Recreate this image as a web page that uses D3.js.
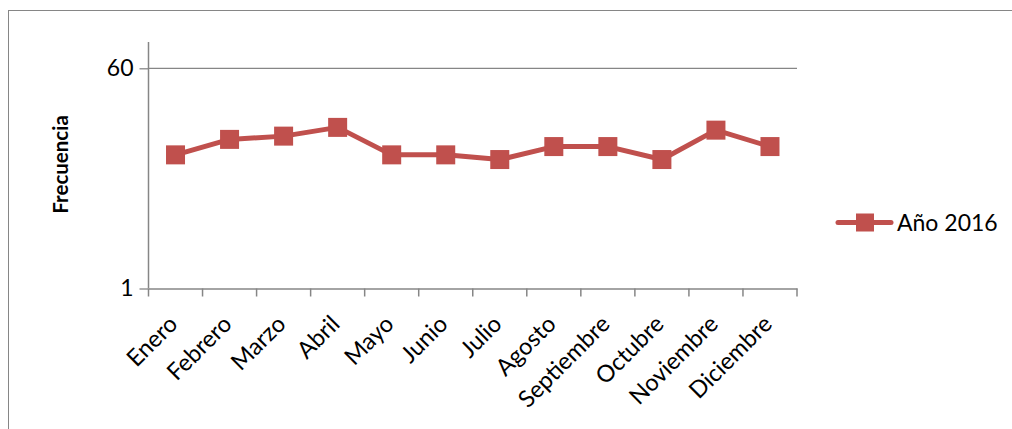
<!DOCTYPE html>
<html><head><meta charset="utf-8">
<script src="https://cdn.jsdelivr.net/npm/d3@7"></script>
<style>body{margin:0;background:#fff}svg{display:block}text{font-family:Lato,"Open Sans",sans-serif}</style>
</head><body>
<svg id="c" width="1012" height="429"></svg>
<script>
const categories = ["Enero","Febrero","Marzo","Abril","Mayo","Junio","Julio","Agosto","Septiembre","Octubre","Noviembre","Diciembre"];
const values2016 = [12,16,17,20,12,12,11,14,14,11,19,14];
const yTicks = [1,60];
const seriesName = "Año 2016";

(function(){
const svg = d3.select("#c");
const color = "#C0504D", axisColor = "#868686";
const pL = 148.5, pR = 797, pT = 68.3, pB = 288.5;

svg.append("rect").attr("x",8.5).attr("y",10.5).attr("width",1100).attr("height",500)
  .attr("fill","none").attr("stroke",axisColor).attr("stroke-width",1);

const x = d3.scaleBand().domain(categories).range([pL,pR]).padding(0);
const y = d3.scaleLog().base(60).domain([1,60]).range([pB,pT]);

// gridline
svg.append("g").selectAll("line").data(yTicks.filter(d=>d!==1)).join("line")
  .attr("x1",pL).attr("x2",pR).attr("y1",d=>y(d)).attr("y2",d=>y(d))
  .attr("stroke",axisColor).attr("stroke-width",1.3);

// y axis
const ya = svg.append("g").attr("transform",`translate(${pL},0)`)
  .call(d3.axisLeft(y).tickValues(yTicks).tickFormat(d3.format("d")).tickSize(9).tickPadding(6));
ya.select(".domain").remove();
ya.selectAll(".tick line").attr("stroke",axisColor).attr("stroke-width",1.3);
ya.selectAll(".tick text").attr("font-size",23).attr("fill","#000").attr("font-family","Lato");
svg.append("line").attr("x1",pL).attr("x2",pL).attr("y1",42).attr("y2",pB)
  .attr("stroke",axisColor).attr("stroke-width",1.5);

// x axis
const xa = svg.append("g").attr("transform",`translate(0,${pB})`)
  .call(d3.axisBottom(x).tickSize(0).tickFormat(""));
xa.select(".domain").attr("stroke",axisColor).attr("stroke-width",1.5);
const bounds = categories.map(c=>x(c)).concat([pR]);
svg.append("g").selectAll("line").data(bounds).join("line")
  .attr("x1",d=>d).attr("x2",d=>d).attr("y1",pB).attr("y2",pB+8)
  .attr("stroke",axisColor).attr("stroke-width",1.5);

svg.append("g").selectAll("text").data(categories).join("text")
  .attr("transform",d=>`translate(${x(d)+x.bandwidth()/2+3.5},${pB+37}) rotate(-45)`)
  .attr("text-anchor","end").attr("font-size",23.5).attr("fill","#000")
  .text(d=>d);

// y title
svg.append("text").attr("transform",`translate(68,${(pT+pB)/2-14}) rotate(-90)`)
  .attr("text-anchor","middle").attr("font-weight","bold").attr("font-size",20.5).attr("fill","#000")
  .text("Frecuencia");

// line
const cx = d=>x(d)+x.bandwidth()/2;
svg.append("path").datum(categories.map((c,i)=>[cx(c),y(values2016[i])]))
  .attr("d",d3.line()).attr("fill","none").attr("stroke",color).attr("stroke-width",5).attr("stroke-linejoin","round").attr("stroke-linecap","round");
const ms = 19;
svg.append("g").selectAll("rect").data(categories).join("rect")
  .attr("x",(c)=>cx(c)-ms/2).attr("y",(c,i)=>y(values2016[i])-ms/2)
  .attr("width",ms).attr("height",ms).attr("fill",color);

// legend
const lg = svg.append("g");
lg.append("line").attr("x1",838).attr("x2",891).attr("y1",222.5).attr("y2",222.5)
  .attr("stroke",color).attr("stroke-width",5).attr("stroke-linecap","round");
lg.append("rect").attr("x",865-9).attr("y",222.5-9).attr("width",18).attr("height",18).attr("fill",color);
lg.append("text").attr("x",897).attr("y",222.5).attr("dy","0.36em").attr("font-size",23).attr("fill","#000").text(seriesName);
})();
</script>
</body></html>
